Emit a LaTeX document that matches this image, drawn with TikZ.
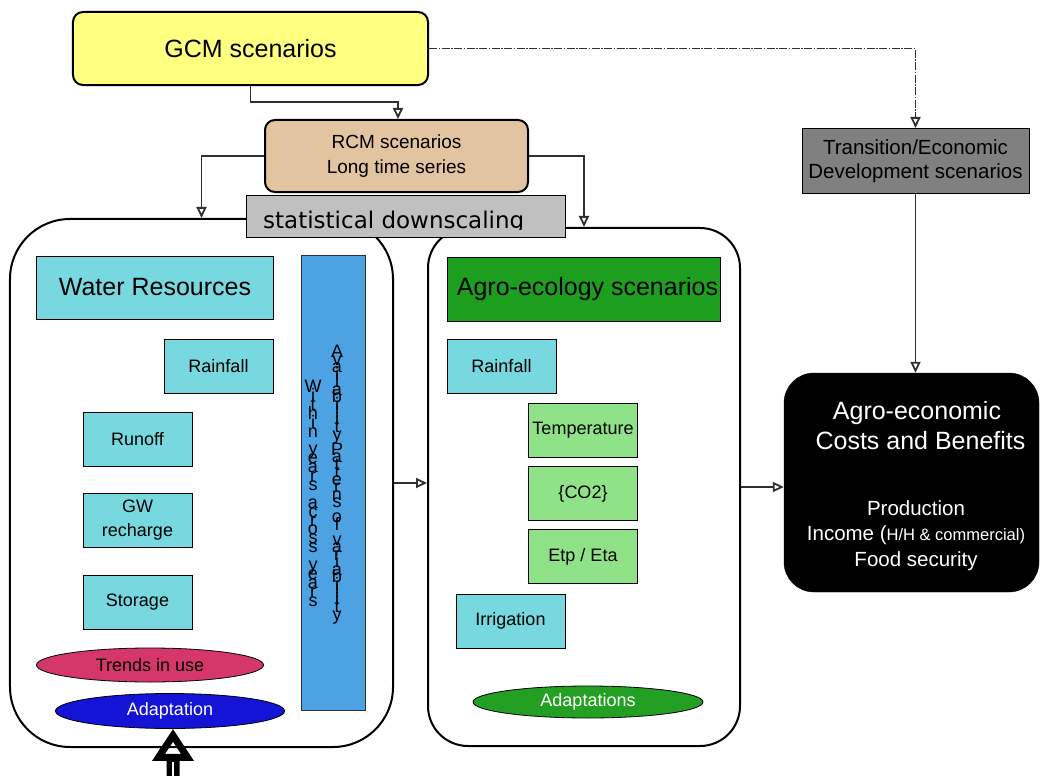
\documentclass[tikz,border=0pt]{standalone}
\usepackage{fontspec}
\setmainfont{Liberation Sans}
\newfontfamily\dejavu{DejaVu Sans}
\usetikzlibrary{arrows.meta,shapes.geometric}

\definecolor{gcmyellow}{HTML}{FFFF80}
\definecolor{rcmtan}{HTML}{E3C4A0}
\definecolor{sdgray}{HTML}{C0C0C0}
\definecolor{cyanbox}{HTML}{78D8E0}
\definecolor{barblue}{HTML}{4DA2E3}
\definecolor{hdrgreen}{HTML}{1E9E1E}
\definecolor{lightgreen}{HTML}{8FE287}
\definecolor{trendred}{HTML}{D6376A}
\definecolor{adaptblue}{HTML}{1414D6}
\definecolor{adaptgreen}{HTML}{23A023}
\definecolor{transgray}{HTML}{808080}
\definecolor{linegray}{HTML}{303030}

% font size in bp with explicit baseline skip
\newcommand\fs[2]{\fontsize{#1bp}{#2bp}\selectfont}
% one centred character of a vertical letter stack
\newcommand\vch[1]{\hbox to 0pt{\hss#1\hss}}
% vertical stack with a fixed baseline distance (letters may overlap)
\newcommand\vstack[2]{\vbox{\baselineskip=#1\lineskiplimit=-\maxdimen\lineskip=0pt #2}}

\tikzset{
  box/.style={draw, line width=1bp, inner sep=0pt, align=center},
  rbox/.style={box, line width=2bp, rounded corners=10bp},
  smallbox/.style={box, minimum width=109bp, minimum height=54bp, font=\fs{18}{24}},
  container/.style={draw, line width=2bp, inner sep=0pt},
  oval/.style={ellipse, draw, line width=0.8bp, inner sep=0pt, font=\fs{18}{22}},
  conn/.style={draw=linegray, line width=1.8bp, -{Triangle[open,length=11bp,width=10bp]}},
  dashconn/.style={conn, dash pattern=on 8bp off 1.5bp on 1.5bp off 1.5bp},
  bigarrow/.style={draw=black, line width=13bp, -{Triangle[open,length=32bp,width=40bp,line width=7bp]}}
}

\begin{document}
\begin{tikzpicture}[x=1bp,y=-1bp]
\useasboundingbox (0,0) rectangle (1040,776);

% outer containers
\node[container, rounded corners=60bp, minimum width=383bp, minimum height=528bp] (wbox) at (201.5,483) {};
\node[container, rounded corners=40bp, minimum width=312bp, minimum height=518bp] (abox) at (584,487) {};

% scenario boxes at the top
\node[rbox, fill=gcmyellow, minimum width=355bp, minimum height=73bp, font=\fs{25}{30}] (gcm) at (250.5,48.5) {GCM scenarios};
\node[rbox, fill=rcmtan, minimum width=263bp, minimum height=72bp, font=\fs{19}{25}] (rcm) at (396.5,156) {RCM scenarios\\Long time series};
\node[box, fill=sdgray, minimum width=319bp, minimum height=42bp] (sd) at (405.5,216) {};
\begin{scope}
  \clip (sd.north west) rectangle (sd.east |- 0,229);
  \node[anchor=base west, inner sep=0pt, font=\dejavu\fs{23}{28}] (sdtext) at (263,228.5) {statistical downscaling};
\end{scope}
\node[box, fill=transgray, minimum width=227bp, minimum height=65bp, font=\fs{20.5}{24}] (trans) at (915.5,161) {Transition/Economic\\Development scenarios};

% water resources panel
\node[box, fill=cyanbox, minimum width=236bp, minimum height=63bp, font=\fs{25}{30}] (water) at (155,287.5) {Water Resources};
\node[box, fill=barblue, draw=linegray, minimum width=64bp, minimum height=454bp] (bar) at (333,483) {};
\node[anchor=north, inner sep=0pt, font=\fs{18}{8}] (avail) at (337,345) {\vstack{7.5bp}{%
  \vch{A}\vch{v}\vch{a}\vch{i}\vch{l}\vch{a}\vch{b}\vch{i}\vch{l}\vch{i}\vch{t}\vch{y}\vch{}%
  \vch{P}\vch{a}\vch{t}\vch{t}\vch{e}\vch{r}\vch{n}\vch{s}\vch{}%
  \vch{o}\vch{f}\vch{}%
  \vch{v}\vch{a}\vch{r}\vch{i}\vch{a}\vch{b}\vch{i}\vch{l}\vch{i}\vch{t}\vch{y}}};
\node[anchor=north, inner sep=0pt, font=\fs{18}{9}] (within) at (313,380) {\vstack{8.9bp}{%
  \vch{W}\vch{i}\vch{t}\vch{h}\vch{i}\vch{n}\vch{}%
  \vch{y}\vch{e}\vch{a}\vch{r}\vch{s}\vch{}%
  \vch{a}\vch{c}\vch{r}\vch{o}\vch{s}\vch{s}\vch{}%
  \vch{y}\vch{e}\vch{a}\vch{r}\vch{s}}};
\node[smallbox, fill=cyanbox] (wrain) at (218.5,366) {Rainfall};
\node[smallbox, fill=cyanbox] (runoff) at (137.5,439) {Runoff};
\node[smallbox, fill=cyanbox] (gw) at (137.5,520) {GW\\recharge};
\node[smallbox, fill=cyanbox] (storage) at (137.5,602.5) {Storage};
\node[oval, fill=trendred, minimum width=227bp, minimum height=34bp] (trends) at (150,665) {Trends in use};
\node[oval, fill=adaptblue, text=white, minimum width=229bp, minimum height=35bp] (adapt) at (170,711) {Adaptation};

% agro-ecology panel
\node[box, fill=hdrgreen, minimum width=273bp, minimum height=64bp, font=\fs{25}{30}] (agro) at (583.5,289) {\hspace*{8bp}Agro-ecology scenarios};
\node[smallbox, fill=cyanbox] (arain) at (501.5,366) {Rainfall};
\node[smallbox, fill=lightgreen] (temp) at (583,430) {Temperature};
\node[smallbox, fill=lightgreen] (co2) at (583,493.5) {\{CO2\}};
\node[smallbox, fill=lightgreen] (etp) at (583,556.5) {Etp / Eta};
\node[smallbox, fill=cyanbox] (irr) at (510.5,621) {Irrigation};
\node[oval, fill=adaptgreen, text=white, minimum width=230bp, minimum height=32bp] (adapts) at (588,702) {Adaptations};

% agro-economic results
\node[draw=black, fill=black, rounded corners=30bp, minimum width=255bp, minimum height=219bp, inner sep=0pt] (econ) at (911.5,482.5) {};
\node[text=white, align=center, inner sep=0pt, font=\fs{25}{30}] (econtitle) at (917,426) {Agro-economic\\\ Costs and Benefits};
\node[text=white, align=center, inner sep=0pt, font=\fs{20.5}{25.5}] (econitems) at (916,535.5) {Production\\Income ({\fs{16.5}{20}H/H \& commercial)}\\Food security};

% connectors
\draw[conn] (gcm.south) -- (gcm.south |- 0,102) -| ([xshift=1.5bp]rcm.north);
\draw[dashconn] (gcm.east) -| (trans.north);
\draw[conn] (rcm.west) -| (wbox.north);
\draw[conn] (rcm.east) -| (abox.north);
\draw[conn] (trans.south) -- (trans.south |- econ.north);
\draw[conn] (wbox.east) -- (wbox.east -| abox.west);
\draw[conn] (abox.east) -- (abox.east -| econ.west);
\coordinate (feed) at (173,790);
\draw[bigarrow] (feed) -- ([xshift=3bp]adapt.south);
\draw[white, line width=1.5bp] (feed) -- ++(0,-28);
\end{tikzpicture}
\end{document}
